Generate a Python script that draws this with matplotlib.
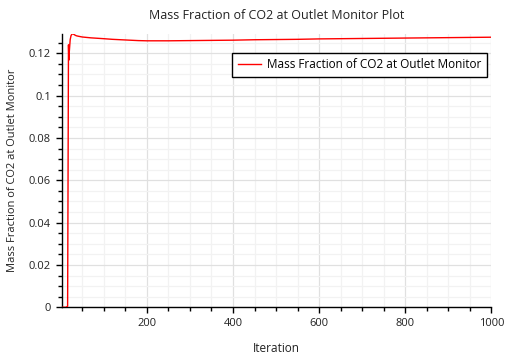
import matplotlib
matplotlib.use("Agg")
from matplotlib import pyplot as plt
from matplotlib.ticker import MultipleLocator, FuncFormatter

# monitor history
iterations = [3, 8, 12, 16, 17, 18, 19, 20, 22, 24, 26, 28, 30, 33, 36, 40, 45, 50,
              60, 70, 85, 100, 120, 140, 160, 180, 200, 250, 300, 350, 400, 450,
              500, 550, 600, 650, 700, 750, 800, 850, 900, 950, 1000]
mass_fraction = [0.0, 0.0, 0.0, 0.0005, 0.06, 0.124, 0.1168, 0.121, 0.1265, 0.1284,
                 0.1290, 0.1292, 0.1290, 0.1286, 0.1283, 0.1281, 0.1279, 0.1277,
                 0.1275, 0.1273, 0.1271, 0.1269, 0.1266, 0.1264, 0.1262, 0.1260,
                 0.1259, 0.1259, 0.1260, 0.1261, 0.1262, 0.1264, 0.1265, 0.1266,
                 0.1268, 0.1269, 0.1270, 0.1271, 0.1272, 0.1273, 0.1274, 0.1275, 0.1276]

series_name = "Mass Fraction of CO2 at Outlet Monitor"
title = "Mass Fraction of CO2 at Outlet Monitor Plot"

plt.rcParams['font.family'] = ['Open Sans', 'DejaVu Sans']

fig = plt.figure(figsize=(5.1, 3.56), dpi=100)
ax = fig.add_axes([0.1216, 0.1368, 0.842, 0.767])

ax.plot(iterations, mass_fraction, color="#ff0000", linewidth=1.0,
        label=series_name, zorder=3)

ax.set_xlim(3, 1000)
ax.set_ylim(0, 0.129)

ax.xaxis.set_major_locator(MultipleLocator(200))
ax.xaxis.set_minor_locator(MultipleLocator(50))
ax.yaxis.set_major_locator(MultipleLocator(0.02))
ax.yaxis.set_minor_locator(MultipleLocator(0.005))
ax.yaxis.set_major_formatter(FuncFormatter(lambda v, p: "0" if abs(v) < 1e-9 else "%g" % round(v, 3)))

ax.grid(which="major", color="#e0e0e0", linewidth=0.9)
ax.grid(which="minor", color="#f2f2f2", linewidth=0.9)
ax.set_axisbelow(True)

for side in ["top", "right"]:
    ax.spines[side].set_visible(False)
for side in ["left", "bottom"]:
    ax.spines[side].set_color("black")
    ax.spines[side].set_linewidth(1.0)

ax.tick_params(which="major", direction="out", length=4, width=1, labelsize=8,
               colors="black", labelcolor="#222222", pad=4)
ax.tick_params(which="minor", direction="out", length=3, width=1, colors="black")

ax.set_title(title, fontsize=9, pad=11, color="#222222")
ax.set_xlabel("Iteration", fontsize=8.5, labelpad=9, color="#222222")
ax.set_ylabel(series_name, fontsize=8, labelpad=8, color="#222222")

leg = ax.legend(loc="upper right", bbox_to_anchor=(0.989, 0.931), borderaxespad=0,
                fontsize=8.5, fancybox=False, framealpha=1, edgecolor="black",
                handlelength=2.0, handletextpad=0.5, borderpad=0.45)
leg.get_frame().set_linewidth(1.0)

fig.savefig("out.png", dpi=100)
